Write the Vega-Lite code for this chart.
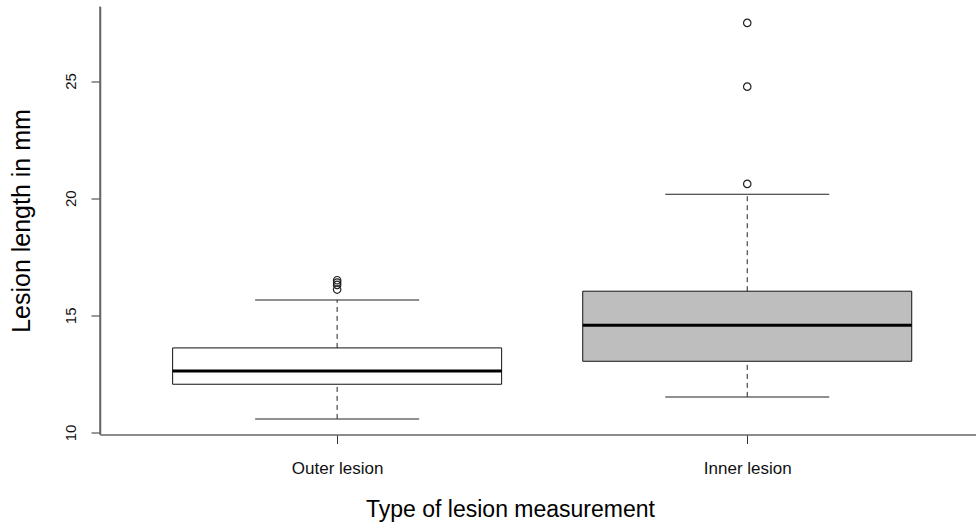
{
  "$schema": "https://vega.github.io/schema/vega-lite/v6.json",
  "width": 876,
  "height": 428,
  "autosize": {"type": "none"},
  "padding": {"left": 100, "top": 6.5, "right": 0, "bottom": 92.5},
  "background": "white",
  "config": {
    "view": {"stroke": null},
    "font": "Liberation Sans",
    "axis": {"grid": false, "domainColor": "#666", "domainWidth": 1.5, "tickColor": "#333", "tickWidth": 1, "tickSize": 9, "labelColor": "#111", "titleColor": "#000", "titleFontWeight": "normal", "labelFont": "Liberation Sans", "titleFont": "Liberation Sans"}
  },
  "datasets": {
    "stats": [
      {"type": "Outer lesion", "lower": 10.58, "q1": 12.06, "median": 12.62, "q3": 13.61, "upper": 15.66},
      {"type": "Inner lesion", "lower": 11.52, "q1": 13.04, "median": 14.58, "q3": 16.03, "upper": 20.17}
    ],
    "outliers": [
      {"type": "Outer lesion", "value": 16.5},
      {"type": "Outer lesion", "value": 16.4},
      {"type": "Outer lesion", "value": 16.3},
      {"type": "Outer lesion", "value": 16.1},
      {"type": "Inner lesion", "value": 20.61},
      {"type": "Inner lesion", "value": 24.76},
      {"type": "Inner lesion", "value": 27.48}
    ]
  },
  "encoding": {
    "x": {
      "field": "type",
      "type": "nominal",
      "sort": ["Outer lesion", "Inner lesion"],
      "scale": {"type": "point", "domain": ["Outer lesion", "Inner lesion"], "padding": 0.568, "align": 0.509},
      "axis": {
        "title": "Type of lesion measurement",
        "titleFontSize": 23,
        "titleX": 410,
        "titleY": 81.5,
        "titleAlign": "center",
        "titleBaseline": "alphabetic",
        "labelAngle": 0,
        "labelFontSize": 17,
        "labelBaseline": "alphabetic",
        "labelPadding": 30
      }
    }
  },
  "layer": [
    {
      "data": {"name": "stats"},
      "mark": {"type": "rule", "color": "#222", "strokeWidth": 1, "strokeDash": [5, 4]},
      "encoding": {
        "y": {"field": "lower", "type": "quantitative", "scale": {"domain": [9.915, 28.18], "nice": false, "zero": false},
          "axis": {"title": "Lesion length in mm", "values": [10, 15, 20, 25], "titleFontSize": 25, "titleAngle": 270, "titleX": -70.5, "titleY": 214, "titleAlign": "center", "titleBaseline": "alphabetic", "labelAngle": 270, "labelAlign": "center", "labelBaseline": "alphabetic", "labelFontSize": 15, "labelPadding": 16}},
        "y2": {"field": "q1"}
      }
    },
    {
      "data": {"name": "stats"},
      "mark": {"type": "rule", "color": "#222", "strokeWidth": 1, "strokeDash": [5, 4]},
      "encoding": {
        "y": {"field": "q3", "type": "quantitative"},
        "y2": {"field": "upper"}
      }
    },
    {
      "data": {"name": "stats"},
      "mark": {"type": "bar", "size": 329, "stroke": "#111", "strokeWidth": 1},
      "encoding": {
        "y": {"field": "q1", "type": "quantitative"},
        "y2": {"field": "q3"},
        "color": {"field": "type", "type": "nominal", "scale": {"domain": ["Outer lesion", "Inner lesion"], "range": ["#ffffff", "#bebebe"]}, "legend": null}
      }
    },
    {
      "data": {"name": "stats"},
      "mark": {"type": "tick", "size": 329, "thickness": 3, "color": "#000", "opacity": 1},
      "encoding": {"y": {"field": "median", "type": "quantitative"}}
    },
    {
      "data": {"name": "stats"},
      "mark": {"type": "tick", "size": 164, "thickness": 1, "color": "#222", "opacity": 1},
      "encoding": {"y": {"field": "lower", "type": "quantitative"}}
    },
    {
      "data": {"name": "stats"},
      "mark": {"type": "tick", "size": 164, "thickness": 1, "color": "#222", "opacity": 1},
      "encoding": {"y": {"field": "upper", "type": "quantitative"}}
    },
    {
      "data": {"name": "outliers"},
      "mark": {"type": "point", "shape": "circle", "filled": false, "size": 55, "stroke": "#222", "strokeWidth": 1.2, "opacity": 1},
      "encoding": {"y": {"field": "value", "type": "quantitative"}}
    },
    {
      "data": {"values": [{"top": 28.18}]},
      "mark": {"type": "rule", "color": "#666", "strokeWidth": 1.5},
      "encoding": {"y": {"field": "top", "type": "quantitative"}}
    }
  ]
}
